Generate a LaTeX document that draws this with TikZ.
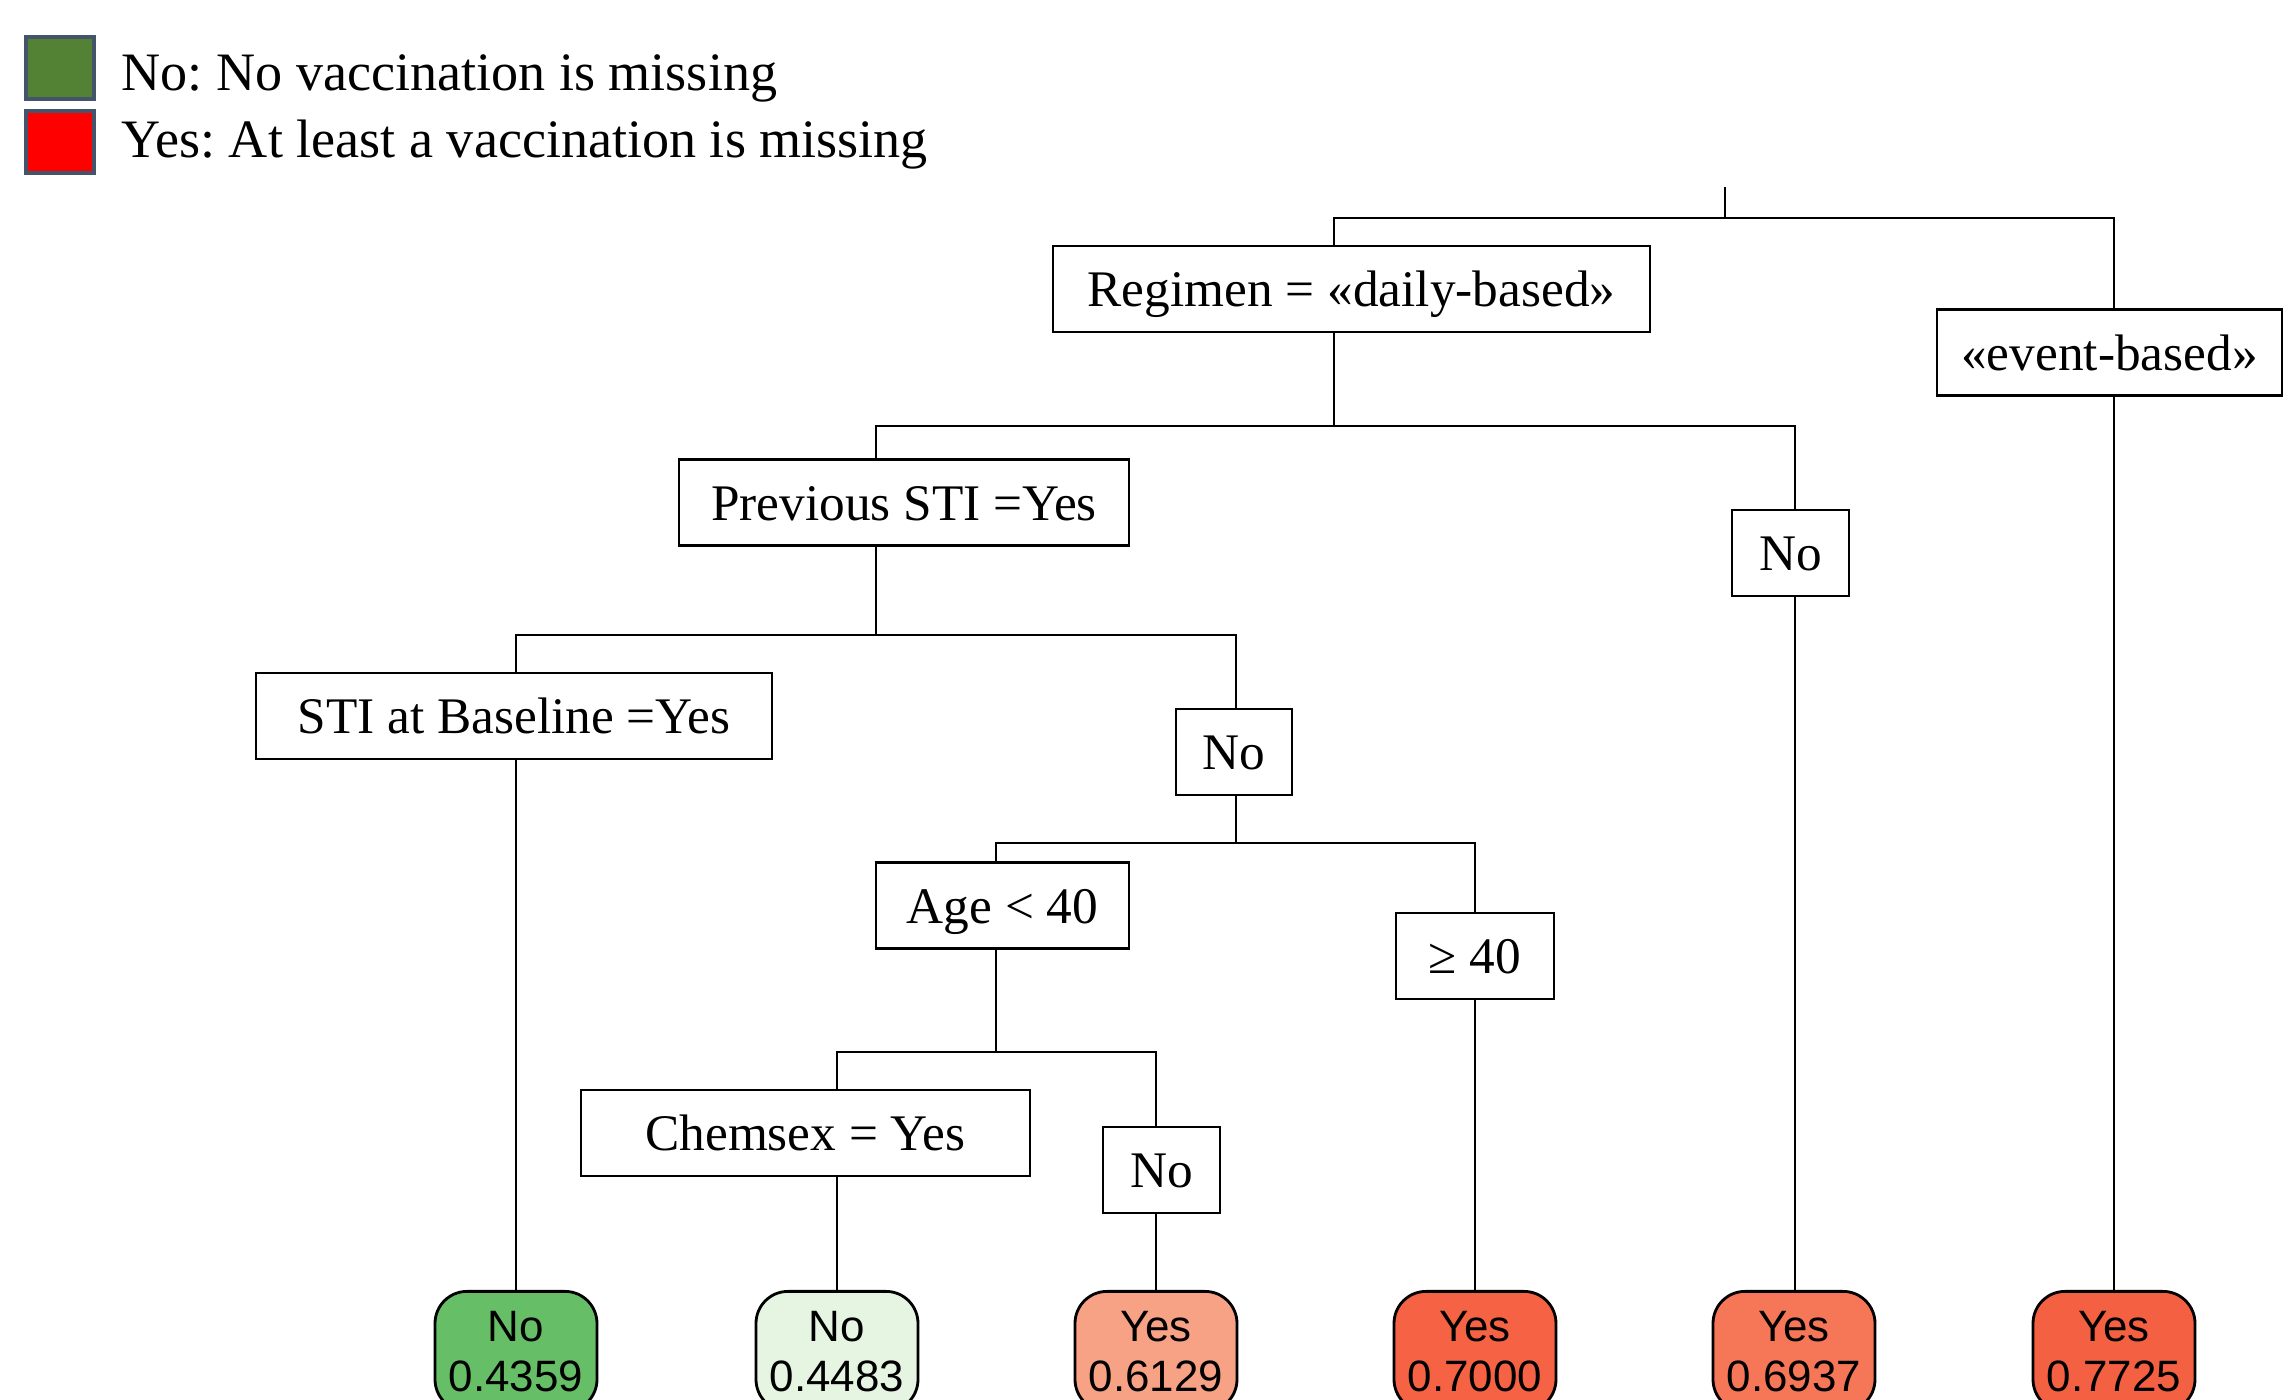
\documentclass[tikz,border=0pt]{standalone}
\usepackage{fontspec}
\setmainfont{Liberation Serif}
\newfontfamily\leaffont{Liberation Sans}
\usetikzlibrary{positioning}
\frenchspacing

\definecolor{legGreen}{RGB}{84,130,53}
\definecolor{legRed}{RGB}{255,0,0}
\definecolor{legEdge}{RGB}{68,84,106}
\definecolor{leafA}{RGB}{102,190,102}
\definecolor{leafB}{RGB}{230,245,225}
\definecolor{leafC}{RGB}{247,162,132}
\definecolor{leafD}{RGB}{245,98,68}
\definecolor{leafE}{RGB}{246,118,88}
\definecolor{leafF}{RGB}{244,96,66}

\begin{document}
\begin{tikzpicture}

  \tikzset{splitbox/.style={draw=black,line width=0.8pt,
                    shape=rectangle,inner sep=0pt,
                    minimum height=0.86cm,text badly centered,
                    text height=10pt,text depth=0pt,
                    font=\fontsize{14.6}{16}\selectfont},
           leafbox/.style={draw=black,line width=0.8pt,
                    shape=rectangle,rounded corners=0.32cm,
                    minimum width=1.62cm,minimum height=1.2cm,
                    anchor=north,align=center,inner sep=0pt,
                    font=\leaffont\fontsize{12.5}{14.2}\selectfont},
           legsq/.style={draw=legEdge,line width=1pt,
                    minimum width=0.68cm,minimum height=0.62cm,inner sep=0pt},
           legtext/.style={inner sep=0pt,anchor=base west,
                    font=\fontsize{15.4}{17}\selectfont},
           stem/.style={draw=black,line width=0.6pt}}

  \useasboundingbox (0,0) rectangle (22.94,14);
  \clip (0,0) rectangle (22.94,14);

  % legend
  \node[legsq,fill=legGreen] (LegNo) at (0.60,13.32) {};
  \node[legsq,fill=legRed] (LegYes) at (0.60,12.58) {};
  \node[legtext] (LegNoText) at (1.21,13.09) {No: No vaccination is missing};
  \node[legtext] (LegYesText) at (1.21,12.42) {Yes: At least a vaccination is missing};

  % bars of the tree
  \coordinate (Root) at (17.25,12.13);
  \coordinate (B0L) at (13.34,11.82);
  \coordinate (B0R) at (21.14,11.82);
  \coordinate (B1L) at (8.76,9.74);
  \coordinate (B1R) at (17.95,9.74);
  \coordinate (B2L) at (5.16,7.65);
  \coordinate (B2R) at (12.36,7.65);
  \coordinate (B3L) at (9.96,5.57);
  \coordinate (B3R) at (14.75,5.57);
  \coordinate (B4L) at (8.37,3.48);
  \coordinate (B4R) at (11.56,3.48);

  % split boxes
  \node[splitbox,minimum width=5.97cm] (Regimen) at (13.515,11.11) {Regimen = «daily-based»};
  \node[splitbox,minimum width=3.45cm] (EventBox) at (21.095,10.475) {«event-based»};
  \node[splitbox,minimum width=4.50cm] (PrevSTI) at (9.04,8.975) {Previous STI =Yes};
  \node[splitbox,minimum width=1.17cm] (PrevNo) at (17.905,8.47) {No};
  \node[splitbox,minimum width=5.16cm] (BaseSTI) at (5.14,6.84) {STI at Baseline =Yes};
  \node[splitbox,minimum width=1.16cm] (BaseNo) at (12.34,6.48) {No};
  \node[splitbox,minimum width=2.53cm] (AgeLow) at (10.025,4.945) {Age < 40};
  \node[splitbox,minimum width=1.58cm] (AgeHigh) at (14.75,4.44) {≥ 40};
  \node[splitbox,minimum width=4.49cm] (Chemsex) at (8.055,2.67) {Chemsex = Yes};
  \node[splitbox,minimum width=1.17cm] (ChemNo) at (11.615,2.30) {No};

  % leaves
  \node[leafbox,fill=leafA] (LeafA) at (5.16,1.10) {No\\0.4359};
  \node[leafbox,fill=leafB] (LeafB) at (8.37,1.10) {No\\0.4483};
  \node[leafbox,fill=leafC] (LeafC) at (11.56,1.10) {Yes\\0.6129};
  \node[leafbox,fill=leafD] (LeafD) at (14.75,1.10) {Yes\\0.7000};
  \node[leafbox,fill=leafE] (LeafE) at (17.94,1.10) {Yes\\0.6937};
  \node[leafbox,fill=leafF] (LeafF) at (21.14,1.10) {Yes\\0.7725};

  % connectors
  \draw[stem] (Root) -- (Root |- B0L);
  \draw[stem] (B0L |- Regimen.north) -- (B0L) -- (B0R) -- (B0R |- EventBox.north);

  \draw[stem] (Regimen.south -| B0L) -- (B0L |- B1L);
  \draw[stem] (B1L |- PrevSTI.north) -- (B1L) -- (B1R) -- (B1R |- PrevNo.north);
  \draw[stem] (EventBox.south -| B0R) -- (LeafF.north);

  \draw[stem] (PrevSTI.south -| B1L) -- (B1L |- B2L);
  \draw[stem] (B2L |- BaseSTI.north) -- (B2L) -- (B2R) -- (B2R |- BaseNo.north);
  \draw[stem] (PrevNo.south -| B1R) -- (B1R |- LeafE.north);

  \draw[stem] (BaseSTI.south -| B2L) -- (LeafA.north);
  \draw[stem] (BaseNo.south -| B2R) -- (B2R |- B3R);
  \draw[stem] (B3L |- AgeLow.north) -- (B3L) -- (B3R) -- (B3R |- AgeHigh.north);

  \draw[stem] (AgeLow.south -| B3L) -- (B3L |- B4L);
  \draw[stem] (B4L |- Chemsex.north) -- (B4L) -- (B4R) -- (B4R |- ChemNo.north);
  \draw[stem] (AgeHigh.south -| B3R) -- (LeafD.north);

  \draw[stem] (Chemsex.south -| B4L) -- (LeafB.north);
  \draw[stem] (ChemNo.south -| B4R) -- (LeafC.north);

\end{tikzpicture}
\end{document}
